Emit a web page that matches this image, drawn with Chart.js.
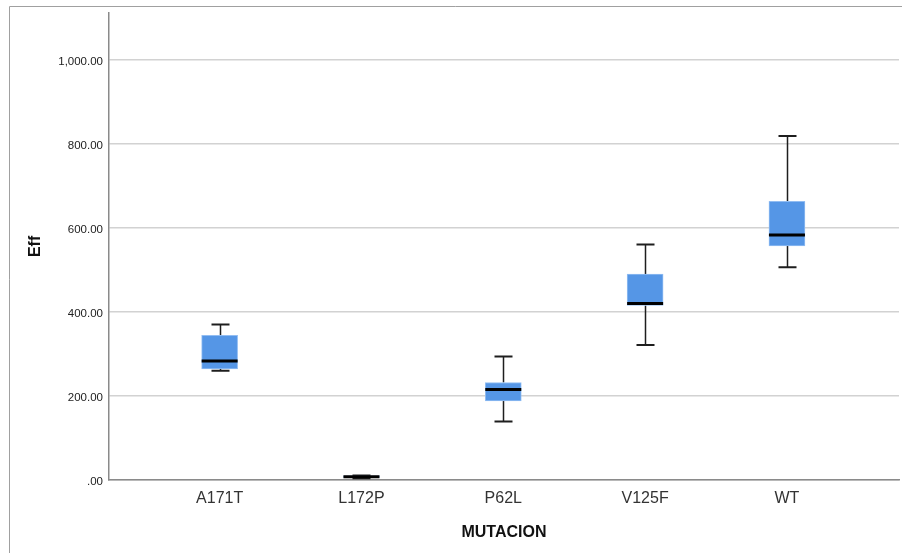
<!DOCTYPE html>
<html>
<head>
<meta charset="utf-8">
<script src="https://cdn.jsdelivr.net/npm/chart.js@4/dist/chart.umd.min.js"></script>
<style>
  html, body { margin: 0; padding: 0; background: #fff; }
  #wrap { width: 902px; height: 553px; position: relative; }
</style>
</head>
<body>
<div id="wrap"><canvas id="boxChart"></canvas></div>
<script>
// box plot summary per mutation
const categories = ['A171T', 'L172P', 'P62L', 'V125F', 'WT'];
const minVals = [260, 4, 139, 321, 506];
const q1Vals = [264, 6, 188, 415, 557];
const medianVals = [283, 8, 215, 420, 583];
const q3Vals = [344, 10, 232, 490, 663];
const maxVals = [370, 11, 294, 560, 818];
const yTicks = [0, 200, 400, 600, 800, 1000];

const BOX_W = 36;
const CAP_W = 18;

// whiskers behind the boxes, medians on top
const boxPlotLines = {
  id: 'boxPlotLines',
  beforeDraw(chart) {
    const ctx = chart.ctx;
    ctx.save();
    ctx.strokeStyle = '#a0a0a0';
    ctx.lineWidth = 1;
    ctx.beginPath();
    ctx.moveTo(9.5, 553);
    ctx.lineTo(9.5, 6.5);
    ctx.lineTo(902, 6.5);
    ctx.stroke();
    ctx.restore();
  },
  beforeDatasetsDraw(chart) {
    const { ctx, scales: { x, y } } = chart;
    ctx.save();
    ctx.strokeStyle = '#1e1e1e';
    categories.forEach((c, i) => {
      const px = Math.round(x.getPixelForValue(i)) + 0.5;
      const yMin = y.getPixelForValue(minVals[i]);
      const yMax = y.getPixelForValue(maxVals[i]);
      const yQ1 = y.getPixelForValue(q1Vals[i]);
      const yQ3 = y.getPixelForValue(q3Vals[i]);
      ctx.lineWidth = 1.5;
      ctx.beginPath();
      ctx.moveTo(px, yMax); ctx.lineTo(px, yQ3);
      ctx.moveTo(px, yQ1); ctx.lineTo(px, yMin);
      ctx.stroke();
      ctx.lineWidth = 2;
      ctx.beginPath();
      ctx.moveTo(px - CAP_W / 2, yMax); ctx.lineTo(px + CAP_W / 2, yMax);
      ctx.moveTo(px - CAP_W / 2, yMin); ctx.lineTo(px + CAP_W / 2, yMin);
      ctx.stroke();
    });
    ctx.restore();
  },
  afterDatasetsDraw(chart) {
    const { ctx, scales: { x, y } } = chart;
    ctx.save();
    ctx.strokeStyle = '#000';
    ctx.lineWidth = 3;
    categories.forEach((c, i) => {
      const px = x.getPixelForValue(i);
      const py = y.getPixelForValue(medianVals[i]);
      ctx.beginPath();
      ctx.moveTo(px - BOX_W / 2, py);
      ctx.lineTo(px + BOX_W / 2, py);
      ctx.stroke();
    });
    ctx.restore();
  }
};

new Chart(document.getElementById('boxChart'), {
  type: 'bar',
  data: {
    datasets: [{
      label: 'Eff',
      data: categories.map((c, i) => ({ x: i, y: [q1Vals[i], q3Vals[i]] })),
      backgroundColor: '#5596e6',
      borderColor: '#92bdf2',
      borderWidth: 1,
      borderSkipped: false,
      barThickness: BOX_W
    }]
  },
  options: {
    responsive: true,
    maintainAspectRatio: false,
    animation: false,
    layout: { padding: { left: 0, top: 12, right: 3, bottom: 0 } },
    plugins: {
      legend: { display: false },
      tooltip: { enabled: false }
    },
    scales: {
      x: {
        type: 'linear',
        offset: false,
        min: -0.78,
        max: 4.79,
        afterFit: (s) => { s.height = 73; },
        afterBuildTicks: (s) => {
          s.ticks = categories.map((c, i) => ({ value: i }));
        },
        grid: { color: 'rgba(0,0,0,0)', drawTicks: false },
        border: { color: '#8a8a8a', width: 1.5 },
        ticks: {
          autoSkip: false,
          maxRotation: 0,
          padding: 9,
          color: '#333',
          font: { family: 'Liberation Sans, Arial, sans-serif', size: 16 },
          callback: (v) => categories[v]
        },
        title: {
          display: true,
          text: 'MUTACION',
          color: '#111',
          padding: { top: 0, bottom: 11 },
          font: { family: 'Liberation Sans, Arial, sans-serif', size: 16, weight: 'bold' }
        }
      },
      y: {
        min: 0,
        max: 1111,
        afterFit: (s) => { s.width = 109; },
        afterBuildTicks: (s) => {
          s.ticks = yTicks.map((v) => ({ value: v }));
        },
        grid: { color: '#d2d2d2', lineWidth: 1.5, drawTicks: false },
        border: { color: '#8a8a8a', width: 1.5 },
        ticks: {
          padding: 6,
          labelOffset: 2,
          color: '#222',
          font: { family: 'Liberation Sans, Arial, sans-serif', size: 11.5 },
          callback: (v) => v === 0 ? '.00'
            : v.toLocaleString('en-US', { minimumFractionDigits: 2, maximumFractionDigits: 2 })
        },
        title: {
          display: true,
          text: 'Eff',
          color: '#111',
          padding: { top: 26, bottom: 0 },
          font: { family: 'Liberation Sans, Arial, sans-serif', size: 16, weight: 'bold' }
        }
      }
    }
  },
  plugins: [boxPlotLines]
});
</script>
</body>
</html>
